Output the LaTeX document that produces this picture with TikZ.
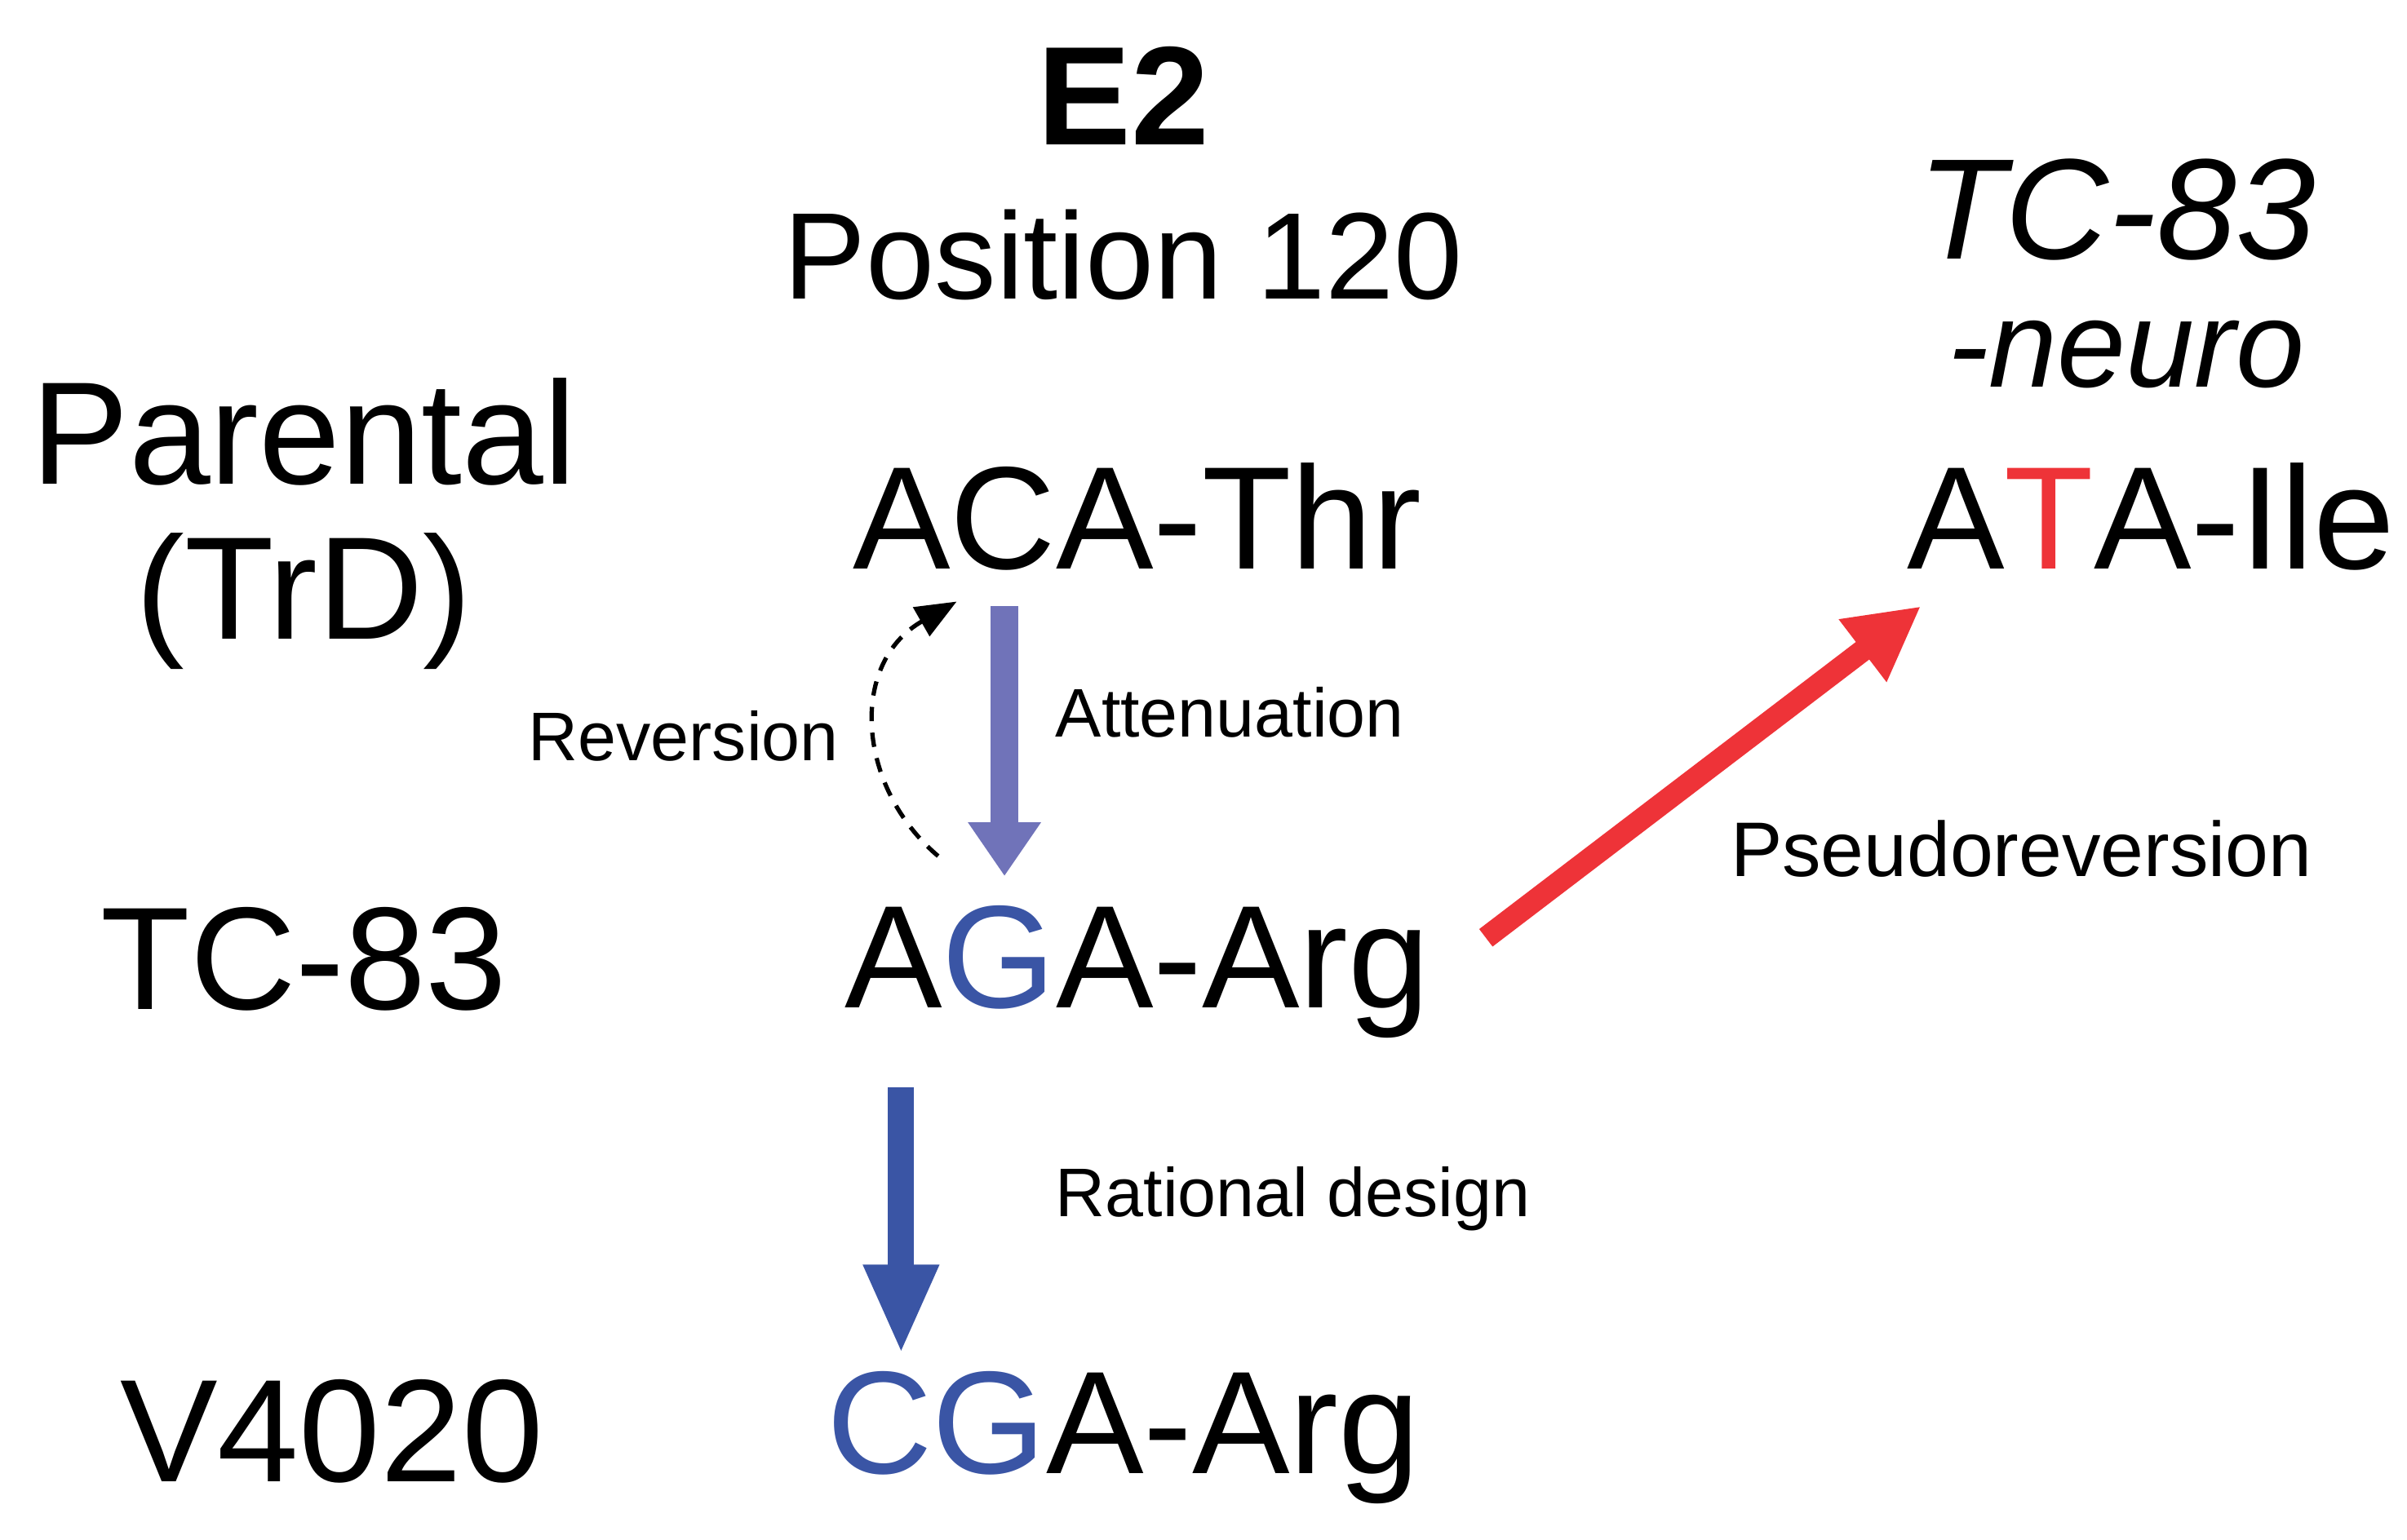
\documentclass[tikz,border=0pt]{standalone}
\usepackage{fontspec}
\setmainfont{Liberation Sans}
\usetikzlibrary{arrows.meta}
\definecolor{lav}{RGB}{112,115,185}
\definecolor{cblue}{RGB}{58,85,165}
\definecolor{cred}{RGB}{238,51,56}
\tikzset{
  big/.style={font=\fontsize{51}{60}\selectfont, inner sep=0pt},
  lbl/.style={font=\fontsize{24}{28}\selectfont, inner sep=0pt},
}
\begin{document}
\begin{tikzpicture}[x=0.01891cm,y=-0.01891cm]
\useasboundingbox (0,0) rectangle (1560,998);
\node[inner sep=0pt,font=\fontsize{49}{55}\selectfont\bfseries] (e2) at (728,62) {E2};
\node[inner sep=0pt,font=\fontsize{43}{50}\selectfont] (pos) at (728,165) {Position 120};
\node[big] (par) at (197,280) {Parental};
\node[big] (trd) at (197,390) {(TrD)};
\node[big] (tc) at (197,622) {TC-83};
\node[big] (v) at (215,928) {V4020};
\node[inner sep=0pt,font=\fontsize{50}{58}\selectfont\itshape] (n1) at (1372,136) {TC-83};
\node[inner sep=0pt,font=\fontsize{43}{50}\selectfont\itshape] (n2) at (1378,230) {-neuro};
\node[big] (thr) at (737,335) {ACA-Thr};
\node[big] (ile) at (1394,335) {A{\color{cred}T}A-Ile};
\node[big] (arg) at (737,630) {A{\color{cblue}G}A-Arg};
\node[big] (cga) at (728,932) {{\color{cblue}CG}A-Arg};
\node[lbl] (rev) at (443,477) {Reversion};
\node[lbl] (att) at (797,462) {Attenuation};
\node[lbl,font=\fontsize{27}{32}\selectfont] (pse) at (1310,550) {Pseudoreversion};
\node[lbl] (rat) at (838,777) {Rational design};
\coordinate (a1) at (651,393);
\coordinate (a2) at (651,568);
\coordinate (b1) at (584,705);
\coordinate (b2) at (584,878);
\coordinate (r1) at (963,608);
\coordinate (r2) at (1245,393);
\coordinate (d1) at (608,555);
\coordinate (d2) at (620,390);
\draw[lav,line width=0.34cm,-{Triangle[length=0.66cm,width=0.85cm]}] (a1) -- (a2);
\draw[cblue,line width=0.32cm,-{Triangle[length=1.1cm,width=0.85cm]}] (b1) -- (b2);
\draw[cred,line width=0.27cm,-{Triangle[length=0.9cm,width=0.9cm]}] (r1) -- (r2);
\draw[line width=1.5pt,dash pattern=on 5pt off 4pt,-{Triangle[length=0.5cm,width=0.4cm]}]
  (d1) .. controls (555,510) and (550,430) .. (d2);
\end{tikzpicture}
\end{document}
